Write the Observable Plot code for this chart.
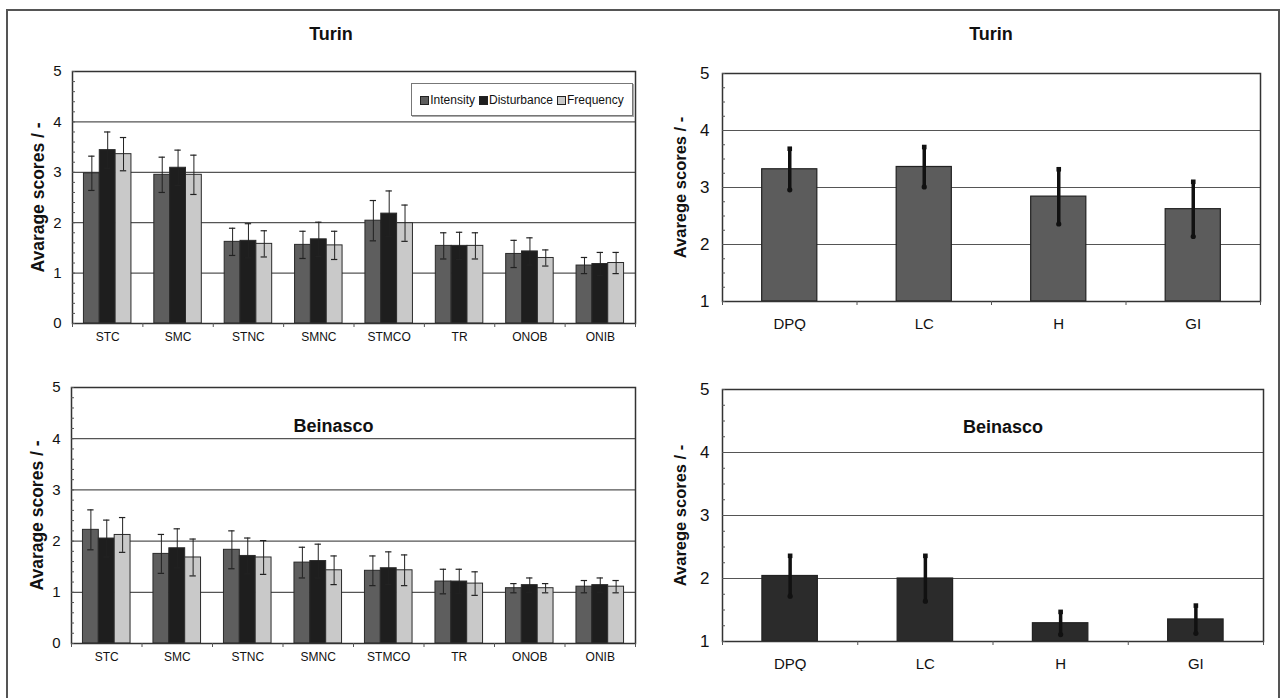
<!DOCTYPE html>
<html>
<head>
<meta charset="utf-8">
<script src="https://cdn.jsdelivr.net/npm/d3@7"></script>
<script src="https://cdn.jsdelivr.net/npm/@observablehq/plot@0.6"></script>
<style>
  html, body { margin: 0; padding: 0; background: #fff; overflow: hidden; }
  #root { position: relative; width: 1286px; height: 698px; font-family: "Liberation Sans", Arial, sans-serif; color: #111; }
  #outer { position: absolute; left: 6px; top: 9px; width: 1274px; height: 720px; border: 2px solid #555; box-sizing: border-box; }
  .chart { position: absolute; }
  .title { position: absolute; font-weight: bold; font-size: 18px; transform: translate(-50%, -50%); white-space: nowrap; }
  .chart g[aria-label="y-axis label"] text { font-weight: bold; }
  .chart.left g[aria-label="y-axis label"] text { font-size: 17.5px; }
  .chart.right g[aria-label="y-axis label"] text { font-size: 16.5px; }
  #legend { position: absolute; left: 411px; top: 83px; width: 222px; height: 33px; border: 1px solid #777; box-shadow: 1px 1px 0 #aaa; box-sizing: border-box; background: #fff; display: flex; align-items: center; justify-content: center; gap: 4px; font-size: 12px; }
  #legend span.sw { display: inline-block; width: 7px; height: 7px; border: 1px solid #222; margin-right: 1px; vertical-align: -1px; }
</style>
</head>
<body>
<div id="root">
  <div id="outer"></div>
</div>
<script>
// ---- data ----
const categories = ["STC", "SMC", "STNC", "SMNC", "STMCO", "TR", "ONOB", "ONIB"];
const series = ["Intensity", "Disturbance", "Frequency"];
const seriesColors = ["#5e5e5e", "#1e1e1e", "#c9c9c9"];

const turinIntensity      = [2.98, 2.95, 1.62, 1.56, 2.04, 1.54, 1.38, 1.15];
const turinIntensityErr   = [0.34, 0.35, 0.27, 0.27, 0.40, 0.26, 0.27, 0.16];
const turinDisturbance    = [3.44, 3.09, 1.64, 1.67, 2.18, 1.54, 1.43, 1.18];
const turinDisturbanceErr = [0.36, 0.35, 0.34, 0.34, 0.45, 0.27, 0.27, 0.23];
const turinFrequency      = [3.36, 2.95, 1.58, 1.55, 1.99, 1.54, 1.30, 1.20];
const turinFrequencyErr   = [0.33, 0.39, 0.26, 0.28, 0.36, 0.26, 0.16, 0.21];

const beinascoIntensity      = [2.22, 1.75, 1.83, 1.58, 1.42, 1.21, 1.08, 1.11];
const beinascoIntensityErr   = [0.39, 0.38, 0.37, 0.30, 0.29, 0.24, 0.09, 0.12];
const beinascoDisturbance    = [2.05, 1.86, 1.71, 1.61, 1.47, 1.21, 1.14, 1.14];
const beinascoDisturbanceErr = [0.36, 0.38, 0.35, 0.33, 0.32, 0.24, 0.14, 0.14];
const beinascoFrequency      = [2.12, 1.68, 1.68, 1.43, 1.43, 1.17, 1.08, 1.11];
const beinascoFrequencyErr   = [0.34, 0.36, 0.33, 0.28, 0.30, 0.23, 0.09, 0.12];

const indicators = ["DPQ", "LC", "H", "GI"];
const turinIndicator       = [3.32, 3.36, 2.84, 2.62];
const turinIndicatorErr    = [0.36, 0.35, 0.48, 0.48];
const beinascoIndicator    = [2.04, 2.00, 1.29, 1.35];
const beinascoIndicatorErr = [0.32, 0.36, 0.18, 0.22];

const yTicksLeft = [0, 1, 2, 3, 4, 5];
const yTicksRight = [1, 2, 3, 4, 5];

// ---- helpers ----
const root = document.getElementById("root");
const fmt = d3.format("d");
function place(node, left, top, cls) {
  const wrap = document.createElement("div");
  wrap.className = "chart " + cls;
  wrap.style.left = left + "px";
  wrap.style.top = top + "px";
  wrap.appendChild(node);
  root.appendChild(wrap);
}
function addTitle(text, x, y) {
  const d = document.createElement("div");
  d.className = "title";
  d.textContent = text;
  d.style.left = x + "px";
  d.style.top = y + "px";
  root.appendChild(d);
}
const plotStyle = {fontFamily: '"Liberation Sans", Arial, sans-serif', fontSize: "14.5px", color: "#111", background: "transparent"};

function groupedChart({values, errs, ylabel, width, height, marginLeft, marginTop, marginRight, marginBottom, inner}) {
  const rows = [];
  series.forEach((s, j) => categories.forEach((c, i) => rows.push({i, j, s, v: values[j][i], e: errs[j][i]})));
  const w = 0.225, cap = 0.045;
  const x1 = r => r.i + 0.5 + (r.j - 1.5) * w;
  const cx = r => x1(r) + w / 2;
  const marks = [
    Plot.gridY({ticks: [1, 2, 3, 4], stroke: "#555", strokeOpacity: 1, strokeWidth: 1.2}),
    Plot.rect(rows, {x1, x2: r => x1(r) + w, y1: 0, y2: "v", fill: "s", stroke: "#2a2a2a", strokeWidth: 1}),
    Plot.ruleX(rows, {x: cx, y1: r => r.v - r.e, y2: r => r.v + r.e, stroke: "#222", strokeWidth: 1}),
    Plot.ruleY(rows, {x1: r => cx(r) - cap, x2: r => cx(r) + cap, y: r => r.v + r.e, stroke: "#222", strokeWidth: 1.2}),
    Plot.ruleY(rows, {x1: r => cx(r) - cap, x2: r => cx(r) + cap, y: r => r.v - r.e, stroke: "#222", strokeWidth: 1.2}),
    Plot.frame({stroke: "#333", strokeWidth: 1.5}),
    Plot.axisY({ticks: d3.range(0, 5.001, 0.2), tickSize: -3, tickFormat: () => "", label: null, stroke: "#555"}),
    Plot.axisY({ticks: yTicksLeft, tickSize: 0, tickPadding: 11, tickFormat: fmt, fontSize: 15, label: ylabel, labelAnchor: "center", labelOffset: 41, labelArrow: "none"}),
    Plot.axisX({ticks: d3.range(categories.length + 1), tickSize: 4, tickFormat: () => "", label: null, stroke: "#555"}),
    Plot.axisX({ticks: categories.map((c, i) => i + 0.5), tickFormat: d => categories[Math.floor(d)], tickSize: 0, tickPadding: 9, fontSize: 12, label: null})
  ];
  if (inner) marks.push(Plot.text([inner.text], {text: d => d, frameAnchor: "top", dy: inner.dy, dx: inner.dx, fontSize: 18, fontWeight: "bold"}));
  return Plot.plot({
    width, height, marginLeft, marginTop, marginRight, marginBottom,
    style: plotStyle,
    x: {domain: [0, categories.length], axis: null},
    y: {domain: [0, 5], axis: null},
    color: {domain: series, range: seriesColors},
    marks
  });
}

function indicatorChart({values, errs, fill, ylabel, width, height, marginLeft, marginTop, marginRight, marginBottom, inner}) {
  const rows = indicators.map((c, i) => ({i, c, v: values[i], e: errs[i]}));
  const w = 0.41;
  const marks = [
    Plot.gridY({ticks: [2, 3, 4], stroke: "#555", strokeOpacity: 1, strokeWidth: 1.2}),
    Plot.rect(rows, {x1: r => r.i + 0.5 - w / 2, x2: r => r.i + 0.5 + w / 2, y1: 1, y2: "v", fill, stroke: "#222", strokeWidth: 1.2}),
    Plot.ruleX(rows, {x: r => r.i + 0.5, y1: r => r.v - r.e, y2: r => r.v + r.e, stroke: "#111", strokeWidth: 3.5}),
    Plot.dot(rows, {x: r => r.i + 0.5, y: r => r.v + r.e, r: 2.6, fill: "#111", symbol: "square"}),
    Plot.dot(rows, {x: r => r.i + 0.5, y: r => r.v - r.e, r: 2.6, fill: "#111"}),
    Plot.frame({stroke: "#333", strokeWidth: 1.5}),
    Plot.axisY({ticks: d3.range(1, 5.001, 0.25), tickSize: -3, tickFormat: () => "", label: null, stroke: "#555"}),
    Plot.axisY({ticks: yTicksRight, tickSize: 0, tickPadding: 13, tickFormat: fmt, fontSize: 17, label: ylabel, labelAnchor: "center", labelOffset: 48, labelArrow: "none"}),
    Plot.axisX({ticks: d3.range(indicators.length + 1), tickSize: 4, tickFormat: () => "", label: null, stroke: "#555"}),
    Plot.axisX({ticks: indicators.map((c, i) => i + 0.5), tickFormat: d => indicators[Math.floor(d)], tickSize: 0, tickPadding: 17, fontSize: 15, label: null})
  ];
  if (inner) marks.push(Plot.text([inner.text], {text: d => d, frameAnchor: "top", dy: inner.dy, dx: inner.dx, fontSize: 18, fontWeight: "bold"}));
  return Plot.plot({
    width, height, marginLeft, marginTop, marginRight, marginBottom,
    style: plotStyle,
    x: {domain: [0, indicators.length], axis: null},
    y: {domain: [1, 5], axis: null},
    marks
  });
}

// ---- charts ----
place(groupedChart({
  values: [turinIntensity, turinDisturbance, turinFrequency],
  errs: [turinIntensityErr, turinDisturbanceErr, turinFrequencyErr],
  ylabel: "Avarage scores / -",
  width: 640, height: 303, marginLeft: 72, marginTop: 21, marginRight: 5, marginBottom: 30
}), 0, 50, "left");

place(groupedChart({
  values: [beinascoIntensity, beinascoDisturbance, beinascoFrequency],
  errs: [beinascoIntensityErr, beinascoDisturbanceErr, beinascoFrequencyErr],
  ylabel: "Avarage scores / -",
  width: 640, height: 308, marginLeft: 71, marginTop: 22, marginRight: 5, marginBottom: 30,
  inner: {text: "Beinasco", dy: 32, dx: -20}
}), 0, 365, "left");

place(indicatorChart({
  values: turinIndicator, errs: turinIndicatorErr, fill: "#5c5c5c",
  ylabel: "Avarege scores / -",
  width: 615, height: 281, marginLeft: 72, marginTop: 23, marginRight: 5, marginBottom: 30
}), 650, 50, "right");

place(indicatorChart({
  values: beinascoIndicator, errs: beinascoIndicatorErr, fill: "#2b2b2b",
  ylabel: "Avarege scores / -",
  width: 618, height: 306, marginLeft: 72, marginTop: 24, marginRight: 5, marginBottom: 30,
  inner: {text: "Beinasco", dy: 31, dx: 10}
}), 650, 365, "right");

addTitle("Turin", 331, 34);
addTitle("Turin", 991, 34);

// legend
const legend = document.createElement("div");
legend.id = "legend";
series.forEach((s, j) => {
  const item = document.createElement("span");
  const sw = document.createElement("span");
  sw.className = "sw";
  sw.style.background = seriesColors[j];
  item.appendChild(sw);
  item.appendChild(document.createTextNode(s));
  legend.appendChild(item);
});
root.appendChild(legend);
</script>
</body>
</html>
